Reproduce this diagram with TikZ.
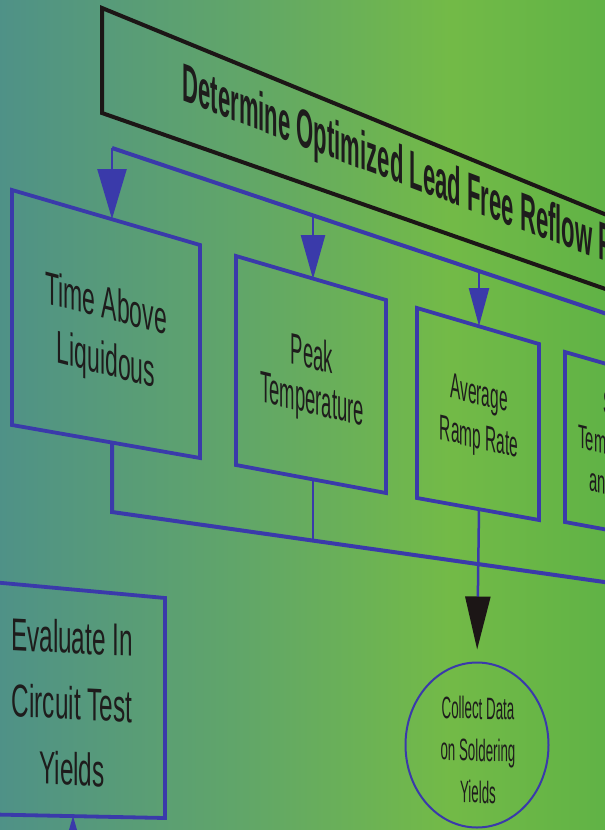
\documentclass[tikz,border=0pt]{standalone}
\usepackage{fontspec}
\setmainfont{Liberation Sans}
\usetikzlibrary{arrows.meta,shapes.geometric}
\definecolor{flowblue}{RGB}{58,58,170}
\definecolor{titleblack}{RGB}{28,22,22}
\definecolor{inkgray}{RGB}{30,28,28}
\pgfdeclarehorizontalshading{backdrop}{100bp}{rgb(0bp)=(0.28,0.52,0.58); rgb(25bp)=(0.31,0.57,0.53); rgb(45bp)=(0.38,0.65,0.41); rgb(62bp)=(0.45,0.73,0.28); rgb(80bp)=(0.35,0.69,0.27); rgb(100bp)=(0.23,0.64,0.29)}
\tikzset{
  boxline/.style={draw=flowblue, line width=3.8pt, line join=miter},
  titlebox/.style={draw=titleblack, line width=4pt, line join=miter},
  bus/.style={draw=flowblue, line width=4pt, line join=miter},
  drop/.style={draw=flowblue, line width=2.5pt},
  boxtext/.style={text=inkgray, align=center, inner sep=0pt, transform shape},
  fsize/.style 2 args={font=\fontsize{#1}{#2}\selectfont}
}
\begin{document}
\begin{tikzpicture}[x=1pt, y=-1pt]
    \useasboundingbox (0,0) rectangle (605,830);
    \shade[shading=backdrop] (0,0) rectangle (605,830);
    \clip (0,0) rectangle (605,830);

    \coordinate (title-nw) at (102,8);
    \coordinate (title-ne) at (780,286);
    \coordinate (title-se) at (780,350);
    \coordinate (title-sw) at (102,113);
    \draw[titlebox] (title-nw) -- (title-ne) -- (title-se) -- (title-sw) -- cycle;
    \begin{scope}[shift={(425,179)}, yslant=-0.38, xscale=0.409]
        \node[boxtext, font=\fontsize{54}{60}\selectfont\bfseries] (title) {Determine Optimized Lead Free Reflow Profile};
    \end{scope}

    \coordinate (time-nw) at (12,190);
    \coordinate (time-ne) at (200,245);
    \coordinate (time-se) at (200,458);
    \coordinate (time-sw) at (12,425);
    \coordinate (time-in) at (112,219);
    \coordinate (time-out) at (112,443);
    \draw[boxline] (time-nw) -- (time-ne) -- (time-se) -- (time-sw) -- cycle;
    \begin{scope}[shift={(106,335)}, yslant=-0.26, xscale=0.5]
        \node[boxtext, fsize={46}{56}] (time) {Time Above\\Liquidous};
    \end{scope}

    \coordinate (peak-nw) at (236,256);
    \coordinate (peak-ne) at (386,300);
    \coordinate (peak-se) at (386,493);
    \coordinate (peak-sw) at (236,465);
    \coordinate (peak-in) at (313,279);
    \coordinate (peak-out) at (313,480);
    \draw[boxline] (peak-nw) -- (peak-ne) -- (peak-se) -- (peak-sw) -- cycle;
    \begin{scope}[shift={(312,380)}, yslant=-0.24, xscale=0.42]
        \node[boxtext, fsize={44}{45}] (peak) {Peak\\Temperature};
    \end{scope}

    \coordinate (ramp-nw) at (417,308);
    \coordinate (ramp-ne) at (539,344);
    \coordinate (ramp-se) at (539,520);
    \coordinate (ramp-sw) at (417,498);
    \coordinate (ramp-in) at (479,326);
    \coordinate (ramp-out) at (479,509);
    \draw[boxline] (ramp-nw) -- (ramp-ne) -- (ramp-se) -- (ramp-sw) -- cycle;
    \begin{scope}[shift={(479,418)}, yslant=-0.24, xscale=0.43]
        \node[boxtext, fsize={36}{44}] (ramp) {Average\\Ramp Rate};
    \end{scope}

    \coordinate (soak-nw) at (565,352);
    \coordinate (soak-ne) at (690,388);
    \coordinate (soak-se) at (690,545);
    \coordinate (soak-sw) at (565,522);
    \draw[boxline] (soak-nw) -- (soak-ne) -- (soak-se) -- (soak-sw) -- cycle;
    \begin{scope}[shift={(620,446)}, yslant=-0.24, xscale=0.45]
        \node[boxtext, fsize={33}{40}] (soak) {Soak\\Temperature\\and Time};
    \end{scope}

    \coordinate (bus-top-w) at (112,148);
    \coordinate (bus-top-peak) at (313,215);
    \coordinate (bus-top-ramp) at (479,271);
    \coordinate (bus-top-e) at (780,372);
    \draw[bus] (bus-top-w) -- (bus-top-e);
    \draw[drop, -{Triangle[width=29pt,length=50pt]}] (bus-top-w) -- (time-in);
    \draw[drop, -{Triangle[width=24pt,length=44pt]}] (bus-top-peak) -- (peak-in);
    \draw[drop, -{Triangle[width=20pt,length=38pt]}] (bus-top-ramp) -- (ramp-in);

    \coordinate (bus-low-w) at (112,512);
    \coordinate (bus-low-peak) at (313,540.5);
    \coordinate (bus-low-e) at (780,607);
    \draw[bus] (time-out) -- (bus-low-w) -- (bus-low-e);
    \draw[drop] (peak-out) -- (bus-low-peak);

    \node[draw=flowblue, line width=2pt, ellipse, minimum width=143pt, minimum height=165pt, inner sep=0pt] (collect) at (477,745) {};
    \begin{scope}[shift={(478,750)}, yslant=-0.03, xscale=0.43]
        \node[boxtext, fsize={31}{42}] (collect-text) {Collect Data\\on Soldering\\Yields};
    \end{scope}
    \draw[drop, shorten >=12pt, -{Triangle[width=25pt,length=53pt,color=titleblack]}] (ramp-out) -- (collect.north);

    \coordinate (eval-nw) at (-30,580);
    \coordinate (eval-ne) at (165,598);
    \coordinate (eval-se) at (165,818);
    \coordinate (eval-sw) at (-30,814);
    \coordinate (eval-in) at (73,816);
    \coordinate (eval-from) at (73,900);
    \draw[boxline] (eval-nw) -- (eval-ne) -- (eval-se) -- (eval-sw) -- cycle;
    \begin{scope}[shift={(72,703)}, yslant=-0.05, xscale=0.53]
        \node[boxtext, fsize={46}{66}] (evaluate) {Evaluate In\\Circuit Test\\Yields};
    \end{scope}
    \draw[drop, -{Triangle[width=26pt,length=46pt]}] (eval-from) -- (eval-in);
\end{tikzpicture}
\end{document}
